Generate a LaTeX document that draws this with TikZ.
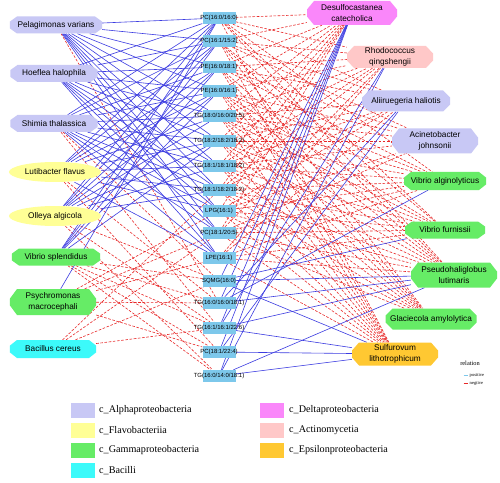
\documentclass[tikz,border=0pt]{standalone}
\usepackage{fontspec}
\setmainfont{Liberation Sans}
\newfontfamily\legfont{Liberation Serif}
\usetikzlibrary{shapes.misc,shapes.geometric}
\definecolor{alphac}{RGB}{200,200,245}
\definecolor{flavoc}{RGB}{255,255,150}
\definecolor{gammac}{RGB}{102,236,102}
\definecolor{bacic}{RGB}{60,250,250}
\definecolor{deltac}{RGB}{250,135,250}
\definecolor{actinoc}{RGB}{255,200,200}
\definecolor{epsic}{RGB}{255,200,50}
\definecolor{lipidc}{RGB}{125,200,235}
\definecolor{posblue}{RGB}{60,60,225}
\definecolor{negred}{RGB}{232,40,40}
\pgfdeclarelayer{bg}
\pgfdeclarelayer{edges}
\pgfsetlayers{bg,edges,main}
\tikzset{
  bact/.style={rectangle, draw=none, inner sep=0pt, align=center,
    font=\fontsize{8.3}{11}\selectfont,
    path picture={\fill[#1]
      ([xshift=7bp]path picture bounding box.north west) --
      ([xshift=-7bp]path picture bounding box.north east) --
      ([yshift=3.5bp]path picture bounding box.east) --
      ([yshift=-3.5bp]path picture bounding box.east) --
      ([xshift=-7bp]path picture bounding box.south east) --
      ([xshift=7bp]path picture bounding box.south west) --
      ([yshift=-3.5bp]path picture bounding box.west) --
      ([yshift=3.5bp]path picture bounding box.west) -- cycle;}},
  ell/.style={rectangle, draw=none, inner sep=0pt, align=center,
    font=\fontsize{8.3}{11}\selectfont,
    path picture={\fill[#1] (path picture bounding box.center)
      circle[x radius=46bp, y radius=10bp];}},
  lipid/.style={rectangle, fill=lipidc, draw=none, minimum width=33bp,
    minimum height=12bp, inner sep=0pt, font=\fontsize{6}{6}\selectfont},
  posedge/.style={draw=posblue, line width=0.6bp},
  negedge/.style={draw=negred, line width=0.6bp, dash pattern=on 2.6bp off 1.6bp},
  legbox/.style={rectangle, draw=none, minimum width=24bp, minimum height=15bp, inner sep=0pt},
  legtext/.style={anchor=west, inner sep=0pt, font=\legfont\fontsize{10.2}{11}\selectfont},
}
\begin{document}
\begin{tikzpicture}[x=1bp,y=-1bp]
\useasboundingbox (0,0) rectangle (500,483);
\begin{pgfonlayer}{bg}
\fill[white] (0,0) rectangle (500,483);
\end{pgfonlayer}

% left bacteria
\node[bact=alphac, minimum width=92bp, minimum height=17bp] (L1) at (56,25) {Pelagimonas varians};
\node[bact=alphac, minimum width=87bp, minimum height=17bp] (L2) at (54,73.5) {Hoeflea halophila};
\node[bact=alphac, minimum width=87bp, minimum height=17bp] (L3) at (54,123.5) {Shimia thalassica};
\node[ell=flavoc, minimum width=92bp, minimum height=20bp] (L4) at (55,172) {Lutibacter flavus};
\node[ell=flavoc, minimum width=92bp, minimum height=20bp] (L5) at (55,216) {Olleya algicola};
\node[bact=gammac, minimum width=88bp, minimum height=17bp] (L6) at (56,257) {Vibrio splendidus};
\node[bact=gammac, minimum width=86bp, minimum height=26bp] (L7) at (53,302) {Psychromonas\\macrocephali};
\node[bact=bacic, minimum width=86bp, minimum height=18bp] (L8) at (53,349) {Bacillus cereus};

% lipids
\node[lipid] (M1) at (219,18) {\makebox[0pt]{PC(16:0/16:0)}};
\node[lipid] (M2) at (219,41) {\makebox[0pt]{PC(16:1/15:2)}};
\node[lipid] (M3) at (219,67) {\makebox[0pt]{PE(16:0/18:1)}};
\node[lipid] (M4) at (219,91) {\makebox[0pt]{PE(16:0/16:1)}};
\node[lipid] (M5) at (219,116) {\makebox[0pt]{TG(18:0/16:0/20:5)}};
\node[lipid] (M6) at (219,141) {\makebox[0pt]{TG(18:2/18:2/18:2)}};
\node[lipid] (M7) at (219,166) {\makebox[0pt]{TG(18:1/18:1/18:2)}};
\node[lipid] (M8) at (219,190) {\makebox[0pt]{TG(18:1/18:2/18:2)}};
\node[lipid] (M9) at (219,211) {\makebox[0pt]{LPG(16:1)}};
\node[lipid] (M10) at (219,233) {\makebox[0pt]{PC(18:1/20:5)}};
\node[lipid] (M11) at (219,258) {\makebox[0pt]{LPE(16:1)}};
\node[lipid] (M12) at (219,281) {\makebox[0pt]{SQMG(16:0)}};
\node[lipid] (M13) at (219,303) {\makebox[0pt]{TG(16:0/16:0/18:1)}};
\node[lipid] (M14) at (219,328) {\makebox[0pt]{TG(16:1/16:1/22:6)}};
\node[lipid] (M15) at (219,352) {\makebox[0pt]{PC(18:1/22:4)}};
\node[lipid] (M16) at (219,376) {\makebox[0pt]{TG(16:0/14:0/18:1)}};

% right bacteria
\node[bact=deltac, minimum width=90bp, minimum height=24bp] (R1) at (352,13) {Desulfocastanea\\catecholica};
\node[bact=actinoc, minimum width=86bp, minimum height=22bp] (R2) at (390,57) {Rhodococcus\\qingshengii};
\node[bact=alphac, minimum width=88bp, minimum height=21bp] (R3) at (406,101) {Aliiruegeria haliotis};
\node[bact=alphac, minimum width=86bp, minimum height=25bp] (R4) at (435,141) {Acinetobacter\\johnsonii};
\node[bact=gammac, minimum width=82bp, minimum height=18bp] (R5) at (445,181) {Vibrio alginolyticus};
\node[bact=gammac, minimum width=80bp, minimum height=17bp] (R6) at (445,230) {Vibrio furnissii};
\node[bact=gammac, minimum width=86bp, minimum height=25bp] (R7) at (454,275) {Pseudohaliglobus\\lutimaris};
\node[bact=gammac, minimum width=91bp, minimum height=21bp] (R8) at (431,319) {Glaciecola amylolytica};
\node[bact=epsic, minimum width=86bp, minimum height=23bp] (R9) at (395,354) {Sulfurovum\\lithotrophicum};

\begin{pgfonlayer}{edges}
% negative edges
\foreach \m in {13} \draw[negedge] (L1) -- (M\m);
\foreach \m in {12,14} \draw[negedge] (L3) -- (M\m);
\foreach \m in {13,15} \draw[negedge] (L4) -- (M\m);
\foreach \m in {12,14,16} \draw[negedge] (L5) -- (M\m);
\foreach \m in {12,13,14,15,16} \draw[negedge] (L6) -- (M\m);
\foreach \m in {9,10,11,13,15} \draw[negedge] (L7) -- (M\m);
\foreach \m in {8,10,12,14} \draw[negedge] (L8) -- (M\m);
\foreach \m in {1,2,3,4,5,6,7,8,9,10} \draw[negedge] (M\m) -- (R1);
\foreach \m in {1,2,3,4,5,6,7,8,10,11} \draw[negedge] (M\m) -- (R2);
\foreach \m in {1,2,3,5,6,7,8,9,11} \draw[negedge] (M\m) -- (R3);
\foreach \m in {2,3,4,5,6,7,9,10} \draw[negedge] (M\m) -- (R4);
\foreach \m in {1,3,4,5,6,7,8,9,10,11} \draw[negedge] (M\m) -- (R5);
\foreach \m in {1,2,4,5,6,7,8,9,10,11} \draw[negedge] (M\m) -- (R6);
\foreach \m in {1,2,3,4,5,6,7,8,9,10,11} \draw[negedge] (M\m) -- (R7);
\foreach \m in {2,3,4,5,6,7,8,9,10} \draw[negedge] (M\m) -- (R8);
\foreach \m in {1,2,3,4,5,6,7,8,9,10,11} \draw[negedge] (M\m) -- (R9);
% positive edges
\foreach \m in {1,2,3,4,5,6,7,8,9,10,11} {
  \draw[posedge] (L1) -- (M\m);
  \draw[posedge] (L2) -- (M\m);
  \draw[posedge] (L3) -- (M\m);
}
\foreach \m in {1,2,3,4,5,6,7,8,9,11} \draw[posedge] (L4) -- (M\m);
\foreach \m in {1,2,3,4,5,6,7,8} \draw[posedge] (L5) -- (M\m);
\foreach \m in {1,2,3,4,6} \draw[posedge] (L6) -- (M\m);
\foreach \m in {1} \draw[posedge] (L7) -- (M\m);
\foreach \m in {12,13,14,15,16} \draw[posedge] (M\m) -- (R1);
\foreach \m in {14,16} \draw[posedge] (M\m) -- (R2);
\foreach \m in {13,15} \draw[posedge] (M\m) -- (R3);
\foreach \m in {13} \draw[posedge] (M\m) -- (R5);
\foreach \m in {12} \draw[posedge] (M\m) -- (R6);
\foreach \m in {12,13,14,16} \draw[posedge] (M\m) -- (R7);
\foreach \m in {12,14,15,16} \draw[posedge] (M\m) -- (R9);
\end{pgfonlayer}

% relation legend
\node[font=\legfont\fontsize{6.4}{7}\selectfont, inner sep=0pt] (relT) at (470,363) {relation};
\coordinate (p1) at (463.5,375);
\coordinate (p2) at (468,375);
\coordinate (n1) at (463.5,383);
\coordinate (n2) at (468,383);
\draw[draw=lipidc, line width=0.6bp] (p1) -- (p2);
\draw[draw=negred, line width=0.6bp] (n1) -- (n2);
\node[anchor=west, inner sep=0pt, font=\legfont\fontsize{4.6}{5}\selectfont] (posT) at (469.5,375) {positive};
\node[anchor=west, inner sep=0pt, font=\legfont\fontsize{4.6}{5}\selectfont] (negT) at (469.5,383) {negtive};

% class legend
\node[legbox, fill=alphac] (k1) at (83,410.5) {};
\node[legtext] (t1) at (99,410.5) {c\_Alphaproteobacteria};
\node[legbox, fill=flavoc] (k2) at (83,430.5) {};
\node[legtext] (t2) at (99,430.5) {c\_Flavobacteriia};
\node[legbox, fill=gammac] (k3) at (83,450.5) {};
\node[legtext] (t3) at (99,450.5) {c\_Gammaproteobacteria};
\node[legbox, fill=bacic] (k4) at (83,470.5) {};
\node[legtext] (t4) at (99,470.5) {c\_Bacilli};
\node[legbox, fill=deltac] (k5) at (271.5,410) {};
\node[legtext] (t5) at (289,410) {c\_Deltaproteobacteria};
\node[legbox, fill=actinoc] (k6) at (271.5,430) {};
\node[legtext] (t6) at (289,430) {c\_Actinomycetia};
\node[legbox, fill=epsic] (k7) at (271.5,450) {};
\node[legtext] (t7) at (289,450) {c\_Epsilonproteobacteria};
\end{tikzpicture}
\end{document}
